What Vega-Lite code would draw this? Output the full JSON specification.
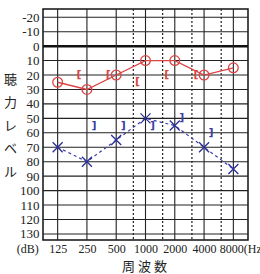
{
  "$schema": "https://vega.github.io/schema/vega-lite/v6.json",
  "width": 205,
  "height": 231,
  "autosize": "none",
  "padding": {"left": 43, "top": 9, "right": 12, "bottom": 34},
  "background": "white",
  "config": {
    "view": {"stroke": "#111", "strokeWidth": 1.5},
    "axis": {"labelFont": "Liberation Sans Narrow", "labelFontSize": 12, "labelColor": "#222", "titleFont": "Noto Sans CJK JP", "titleFontSize": 13, "titleColor": "#222", "titleFontWeight": "normal", "labelOverlap": false, "grid": false}
  },
  "datasets": {
    "audio": [
      {"freq": 125, "ear": "right", "air": 25, "bone": null},
      {"freq": 250, "ear": "right", "air": 30, "bone": 20},
      {"freq": 500, "ear": "right", "air": 20, "bone": 20},
      {"freq": 1000, "ear": "right", "air": 10, "bone": 25},
      {"freq": 2000, "ear": "right", "air": 10, "bone": 20},
      {"freq": 4000, "ear": "right", "air": 20, "bone": 20},
      {"freq": 8000, "ear": "right", "air": 15, "bone": null},
      {"freq": 125, "ear": "left", "air": 70, "bone": null},
      {"freq": 250, "ear": "left", "air": 80, "bone": 55},
      {"freq": 500, "ear": "left", "air": 65, "bone": 55},
      {"freq": 1000, "ear": "left", "air": 50, "bone": 55},
      {"freq": 2000, "ear": "left", "air": 55, "bone": 50},
      {"freq": 4000, "ear": "left", "air": 70, "bone": 60},
      {"freq": 8000, "ear": "left", "air": 85, "bone": null}
    ],
    "hlines": [{"db": -20}, {"db": -10}, {"db": 0}, {"db": 10}, {"db": 20}, {"db": 30}, {"db": 40}, {"db": 50}, {"db": 60}, {"db": 70}, {"db": 80}, {"db": 90}, {"db": 100}, {"db": 110}, {"db": 120}, {"db": 130}],
    "zero": [{"db": 0}],
    "octave": [{"freq": 125}, {"freq": 250}, {"freq": 500}, {"freq": 1000}, {"freq": 2000}, {"freq": 4000}, {"freq": 8000}],
    "half": [{"freq": 750}, {"freq": 1500}, {"freq": 3000}, {"freq": 6000}]
  },
  "layer": [
    {
      "data": {"name": "hlines"},
      "mark": {"type": "rule", "color": "#222", "strokeWidth": 1.1},
      "encoding": {
        "y": {"field": "db", "type": "quantitative",
          "scale": {"domain": [-25.7, 134.2], "reverse": true, "nice": false, "zero": false},
          "axis": {
            "values": [-20, -10, 0, 10, 20, 30, 40, 50, 60, 70, 80, 90, 100, 110, 120, 130],
            "tickCount": 30,
            "labelExpr": "'' + datum.value",
            "labelFontSize": 13,
            "labelOverlap": false,
            "labelFlush": false,
            "labelBound": false,
            "labelPadding": 4,
            "ticks": false,
            "domain": false,
            "grid": false,
            "title": ["聴", "力", "レ", "ベ", "ル"],
            "titleAngle": 0,
            "titleX": -33,
            "titleY": 70,
            "titleAlign": "center",
            "titleBaseline": "middle",
            "titleLineHeight": 23
          }
        }
      }
    },
    {
      "data": {"name": "zero"},
      "mark": {"type": "rule", "color": "#111", "strokeWidth": 2.5},
      "encoding": {
        "y": {"field": "db", "type": "quantitative"}
      }
    },
    {
      "data": {"name": "octave"},
      "mark": {"type": "rule", "color": "#222", "strokeWidth": 1.1},
      "encoding": {
        "x": {"field": "freq", "type": "quantitative",
          "scale": {"type": "log", "base": 2, "domain": [88.39, 11314], "nice": false},
          "axis": {
            "values": [89, 125, 250, 500, 1000, 2000, 4000, 8000],
            "tickCount": 30,
            "labelExpr": "datum.value == 8000 ? '8000(Hz)' : datum.value == 89 ? '(dB)' : '' + datum.value",
            "labelAlign": {"condition": [{"test": "datum.value == 8000", "value": "left"}, {"test": "datum.value == 89", "value": "right"}], "value": "center"},
            "labelOffset": {"condition": [{"test": "datum.value == 8000", "value": -14}, {"test": "datum.value == 89", "value": -5}], "value": 0},
            "labelOverlap": false,
            "labelFlush": false,
            "labelBound": false,
            "labelBaseline": "top",
            "labelPadding": 3,
            "ticks": false,
            "domain": false,
            "grid": false,
            "title": "周  波  数",
            "titleX": 101,
            "titleY": 26,
            "titleBaseline": "middle",
            "titleAlign": "center"
          }
        }
      }
    },
    {
      "data": {"name": "half"},
      "mark": {"type": "rule", "color": "#222", "strokeWidth": 1.2, "strokeDash": [2, 2]},
      "encoding": {
        "x": {"field": "freq", "type": "quantitative"}
      }
    },
    {
      "data": {"name": "audio"},
      "transform": [{"filter": "datum.ear == 'right'"}],
      "mark": {"type": "line", "color": "#d94444", "strokeWidth": 1.3},
      "encoding": {
        "x": {"field": "freq", "type": "quantitative"},
        "y": {"field": "air", "type": "quantitative"}
      }
    },
    {
      "data": {"name": "audio"},
      "transform": [{"filter": "datum.ear == 'right'"}],
      "mark": {"type": "point", "shape": "circle", "size": 95, "filled": false, "color": "#d94444", "strokeWidth": 1.3, "opacity": 1},
      "encoding": {
        "x": {"field": "freq", "type": "quantitative"},
        "y": {"field": "air", "type": "quantitative"}
      }
    },
    {
      "data": {"name": "audio"},
      "transform": [{"filter": "datum.ear == 'right' && datum.bone != null"}],
      "mark": {"type": "text", "text": "[", "font": "DejaVu Sans", "fontSize": 11, "fontWeight": "bold", "color": "#d94444", "dx": -8, "baseline": "middle"},
      "encoding": {
        "x": {"field": "freq", "type": "quantitative"},
        "y": {"field": "bone", "type": "quantitative"}
      }
    },
    {
      "data": {"name": "audio"},
      "transform": [{"filter": "datum.ear == 'left'"}],
      "mark": {"type": "line", "color": "#3a3fa8", "strokeWidth": 1.2, "strokeDash": [3, 3]},
      "encoding": {
        "x": {"field": "freq", "type": "quantitative"},
        "y": {"field": "air", "type": "quantitative"}
      }
    },
    {
      "data": {"name": "audio"},
      "transform": [{"filter": "datum.ear == 'left'"}],
      "mark": {"type": "point", "shape": "M-1,-1L1,1M-1,1L1,-1", "size": 100, "filled": false, "color": "#2a2f9a", "strokeWidth": 1.3, "opacity": 1},
      "encoding": {
        "x": {"field": "freq", "type": "quantitative"},
        "y": {"field": "air", "type": "quantitative"}
      }
    },
    {
      "data": {"name": "audio"},
      "transform": [{"filter": "datum.ear == 'left' && datum.bone != null"}],
      "mark": {"type": "text", "text": "]", "font": "DejaVu Sans", "fontSize": 11, "fontWeight": "bold", "color": "#3a3fa8", "dx": 7, "baseline": "middle"},
      "encoding": {
        "x": {"field": "freq", "type": "quantitative"},
        "y": {"field": "bone", "type": "quantitative"}
      }
    }
  ]
}
